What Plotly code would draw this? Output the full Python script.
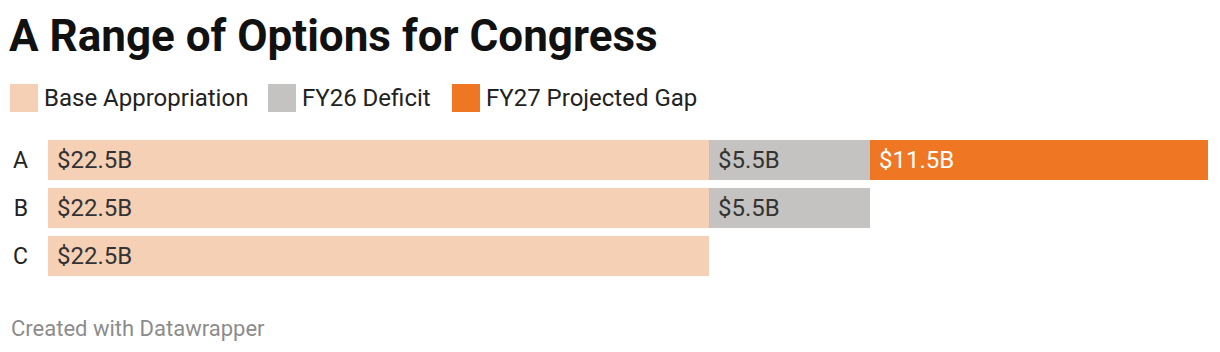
import plotly.graph_objects as go

categories = ["A", "B", "C"]
base_appropriation = [22.5, 22.5, 22.5]
fy26_deficit = [5.5, 5.5, None]
fy27_gap = [11.5, None, None]

series_names = ["Base Appropriation", "FY26 Deficit", "FY27 Projected Gap"]
series_values = [base_appropriation, fy26_deficit, fy27_gap]
colors = ["#F6D0B5", "#C4C3C1", "#EF7622"]
label_colors = ["#333333", "#333333", "#FFFFFF"]

W, H = 1220, 352
L, R, T, B = 48, 12, 136, 72
PW, PH = W - L - R, H - T - B

def px_x(p):
    return (p - L) / PW

def px_y(p):
    return (H - B - p) / PH

FONT = "Roboto"

fig = go.Figure()
for name, vals, col in zip(series_names, series_values, colors):
    fig.add_trace(go.Bar(
        y=categories, x=vals, name=name, orientation="h",
        marker=dict(color=col, line=dict(width=0)),
        hoverinfo="skip", showlegend=False,
    ))

annotations = []
# value labels inside bars
for i, cat in enumerate(categories):
    start = 0.0
    for vals, lc in zip(series_values, label_colors):
        v = vals[i]
        if v is None:
            continue
        annotations.append(dict(
            x=start, y=cat, xref="x", yref="y", text=f"${v}B",
            xanchor="left", yanchor="middle", xshift=7, showarrow=False,
            font=dict(family=FONT, size=24, color=lc),
        ))
        start += v

# custom legend
legend_x = [10, 268, 452]
shapes = []
for lx, name, col in zip(legend_x, series_names, colors):
    shapes.append(dict(type="rect", xref="paper", yref="paper",
                       x0=px_x(lx), x1=px_x(lx + 28), y0=px_y(112), y1=px_y(84),
                       fillcolor=col, line=dict(width=0)))
    annotations.append(dict(x=px_x(lx + 32), y=px_y(98.5), xref="paper", yref="paper",
                            text=name, xanchor="left", yanchor="middle", showarrow=False,
                            font=dict(family=FONT, size=24, color="#222222")))

# footer
annotations.append(dict(x=px_x(9), y=px_y(328), xref="paper", yref="paper",
                        text="Created with Datawrapper", xanchor="left", yanchor="middle",
                        showarrow=False, font=dict(family=FONT, size=22, color="#8C8C8C")))

fig.update_layout(
    width=W, height=H,
    margin=dict(l=L, r=R, t=T, b=B),
    barmode="stack", bargap=1/6,
    plot_bgcolor="white", paper_bgcolor="white",
    title=dict(text="<b>A Range of Options for Congress</b>",
               x=9 / W, xanchor="left", xref="container",
               y=1 - 20 / H, yanchor="top", yref="container",
               font=dict(family=FONT, size=44, color="#111111")),
    xaxis=dict(range=[0, 39.5], visible=False, fixedrange=True),
    yaxis=dict(autorange="reversed", showgrid=False, zeroline=False, showline=False,
               ticks="", ticklabelstandoff=19,
               tickfont=dict(family=FONT, size=23, color="#222222")),
    shapes=shapes, annotations=annotations,
)

fig.write_html("out.html", config={"displayModeBar": False})
